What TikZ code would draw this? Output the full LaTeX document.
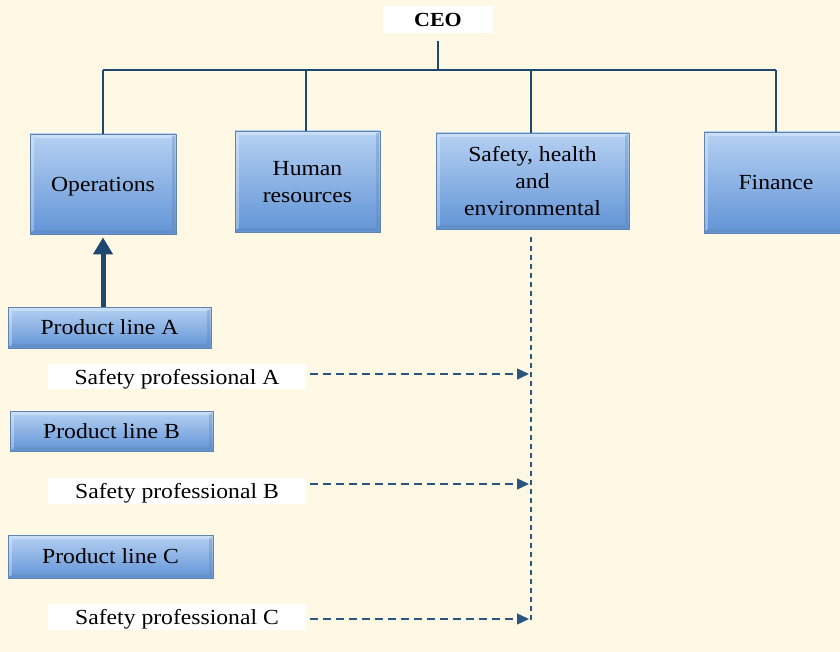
\documentclass[tikz,border=0pt]{standalone}
\usepackage{fontspec}
\setmainfont{Liberation Serif}[FakeStretch=1.1]
\usetikzlibrary{arrows.meta}
\definecolor{bg}{RGB}{255,248,229}
\definecolor{btop}{RGB}{182,209,243}
\definecolor{bmid}{RGB}{140,181,232}
\definecolor{bbot}{RGB}{98,148,214}
\definecolor{bedge}{RGB}{96,132,176}
\definecolor{orgline}{RGB}{30,72,110}
\definecolor{dline}{RGB}{40,86,128}
\begin{document}
\begin{tikzpicture}[x=1pt,y=-1pt,
  box/.style={draw=bedge, line width=0.8pt, top color=btop, middle color=bmid, bottom color=bbot,
    inner sep=0pt, align=center, text depth=0pt, font=\fontsize{21.5}{27}\selectfont,
    path picture={
      \draw[white, opacity=0.3, line width=2.5pt]
        ([shift={(2.5pt,2.5pt)}]path picture bounding box.south west) --
        ([shift={(2.5pt,-2.5pt)}]path picture bounding box.north west) --
        ([shift={(-2.5pt,-2.5pt)}]path picture bounding box.north east);
      \draw[bedge, opacity=0.35, line width=2.5pt]
        ([shift={(-2.5pt,-2.5pt)}]path picture bounding box.north east) --
        ([shift={(-2.5pt,2.5pt)}]path picture bounding box.south east) --
        ([shift={(2.5pt,2.5pt)}]path picture bounding box.south west);
    }},
  wbox/.style={fill=white, inner sep=0pt, text depth=0pt, font=\fontsize{21.5}{26}\selectfont},
  orgl/.style={draw=orgline, line width=1.2pt},
  dashline/.style={draw=dline, line width=1.4pt, dash pattern=on 8pt off 5pt},
  vdashline/.style={draw=dline, line width=1.3pt, dash pattern=on 5pt off 4pt},
  dtip/.style={-{Triangle[length=12pt,width=11pt]}},
]
\useasboundingbox (0,0) rectangle (840,652);
\clip (0,0) rectangle (840,652);
\fill[bg] (0,0) rectangle (840,652);

% CEO
\node[wbox, minimum width=110pt, minimum height=27pt, font=\fontsize{20}{24}\selectfont\bfseries] (ceo) at (438,19.5) {CEO};

% departments
\node[box, minimum width=146pt, minimum height=100pt] (ops) at (103,184) {Operations};
\node[box, minimum width=145pt, minimum height=101pt] (hr) at (307.5,181.5) {Human\\resources};
\node[box, minimum width=193pt, minimum height=96pt] (she) at (532.5,181) {Safety, health\\and\\environmental};
\node[box, minimum width=144pt, minimum height=101pt] (fin) at (776,182.5) {Finance};

% product lines
\node[box, minimum width=203pt, minimum height=41pt] (pla) at (109.5,327.5) {Product line A};
\node[box, minimum width=203pt, minimum height=40pt] (plb) at (111.5,431) {Product line B};
\node[box, minimum width=205pt, minimum height=43pt] (plc) at (110.5,556.5) {Product line C};

% safety professionals
\node[wbox, minimum width=258pt, minimum height=25pt] (spa) at (177,376.5) {Safety professional A};
\node[wbox, minimum width=258pt, minimum height=26pt] (spb) at (177,491) {Safety professional B};
\node[wbox, minimum width=258pt, minimum height=26pt] (spc) at (177,617) {Safety professional C};

% org chart lines
\coordinate (ceob) at (438,41);
\coordinate (hl) at (103,70);
\coordinate (hr2) at (776,70);
\draw[orgl] (ceob) -- (438,70);
\draw[orgl] (hl) -- (hr2);
\draw[orgl] (hl) -- (ops.north);
\draw[orgl] (306,70) -- (306,131);
\draw[orgl] (531,70) -- (531,133);
\draw[orgl] (hr2) -- (fin.north);

% thick arrow
\draw[draw=orgline, line width=5pt, -{Triangle[length=17pt,width=19pt]}, shorten >=3pt] (pla.north -| ops.south) -- (ops.south);

% dashed line
\coordinate (vtop) at (531,237);
\coordinate (vend) at (531,622);
\draw[vdashline] (vtop) -- (vend);
\coordinate (ta) at (529,374);
\coordinate (tb) at (529,484);
\coordinate (tc) at (529,619);
\draw[dashline, dtip] ([shift={(4,-2.5)}]spa.east) -- (ta);
\draw[dashline, dtip] ([shift={(4,-7)}]spb.east) -- (tb);
\draw[dashline, dtip] ([shift={(4,2)}]spc.east) -- (tc);
\end{tikzpicture}
\end{document}
